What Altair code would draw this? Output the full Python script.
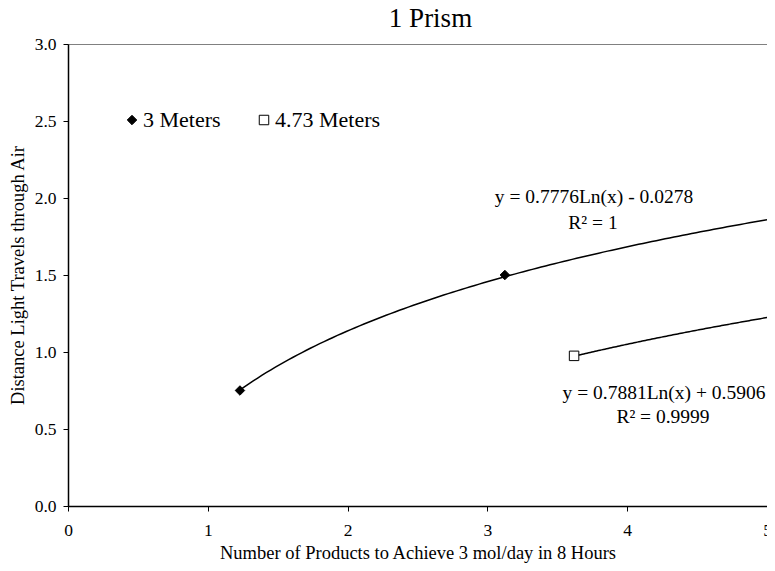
import altair as alt
import pandas as pd
import numpy as np

# ---- data ----
series = ["3 Meters", "3 Meters", "4.73 Meters"]
x_vals = [1.23, 3.125, 3.62]
y_vals = [0.75, 1.50, 0.975]

# trendlines (logarithmic), coefficients as displayed on the chart
trend_series = ["3 Meters", "4.73 Meters"]
trend_slope = [0.7881, 0.7776]
trend_intercept = [0.5906, -0.0278]
trend_start = [1.23, 3.62]
trend_end = [5.0, 5.0]

eq_labels = ["y = 0.7776Ln(x) - 0.0278", "R² = 1",
             "y = 0.7881Ln(x) + 0.5906", "R² = 0.9999"]

x_ticks = [0, 1, 2, 3, 4, 5]
y_ticks = [0.0, 0.5, 1.0, 1.5, 2.0, 2.5, 3.0]

FONT = "Liberation Serif"

pts = pd.DataFrame({"series": series, "x": x_vals, "y": y_vals})

rows = []
for s, a, b, x0, x1 in zip(trend_series, trend_slope, trend_intercept, trend_start, trend_end):
    for xv in np.linspace(x0, x1, 120):
        rows.append({"series": s, "x": xv, "y": a * np.log(xv) + b})
curve = pd.DataFrame(rows)

xscale = alt.Scale(domain=[0, 5], nice=False, zero=False)
yscale = alt.Scale(domain=[0, 3], nice=False)

xaxis = alt.Axis(values=x_ticks, format="d", title="Number of Products to Achieve 3 mol/day in 8 Hours",
                 grid=False, labelFlush=False)
yaxis = alt.Axis(values=y_ticks, format=".1f", title="Distance Light Travels through Air", grid=False)

legend = alt.Legend(title=None, orient="none", legendX=53, legendY=65, direction="horizontal")

lines = alt.Chart(curve).mark_line(color="black", strokeWidth=1.5).encode(
    x=alt.X("x:Q", scale=xscale, axis=xaxis),
    y=alt.Y("y:Q", scale=yscale, axis=yaxis),
    detail="series:N",
    order="x:Q",
)

points = alt.Chart(pts).mark_point(filled=True, size=90, strokeWidth=1, opacity=1).encode(
    x=alt.X("x:Q", scale=xscale, axis=xaxis),
    y=alt.Y("y:Q", scale=yscale, axis=yaxis),
    shape=alt.Shape("series:N", scale=alt.Scale(domain=trend_series, range=["diamond", "square"]), legend=legend),
    fill=alt.Fill("series:N", scale=alt.Scale(domain=trend_series, range=["black", "white"]), legend=legend),
    stroke=alt.Stroke("series:N", scale=alt.Scale(domain=trend_series, range=["black", "black"]), legend=legend),
)

eq_pos = [(526, 153), (525, 179), (596, 349), (595, 373)]
texts = []
for lbl, (px, py) in zip(eq_labels, eq_pos):
    texts.append(
        alt.Chart(pd.DataFrame({"t": [lbl]})).mark_text(
            font=FONT, fontSize=19.5, color="black", align="center", baseline="middle"
        ).encode(text="t:N", x=alt.value(px), y=alt.value(py))
    )

chart = alt.layer(lines, points, *texts).properties(
    width=699,
    height=462,
    title=alt.TitleParams("1 Prism", font=FONT, fontSize=27, fontWeight="normal", color="black",
                          anchor="middle", dx=13, offset=2),
    autosize=alt.AutoSizeParams(type="none"),
    padding={"left": 60, "top": 36, "right": 0, "bottom": 57},
).configure_view(
    stroke="#808080", strokeWidth=1
).configure_axis(
    domainColor="black", domainWidth=1.5, tickColor="black", tickWidth=1, tickSize=5,
    labelFont=FONT, labelFontSize=17.5, labelColor="black",
    titleFont=FONT, titleFontSize=18.5, titleFontWeight="normal", titleColor="black",
).configure_axisX(
    labelPadding=10, titlePadding=5
).configure_axisY(
    labelPadding=7, titlePadding=7
).configure_legend(
    labelFont=FONT, labelFontSize=22, labelColor="black", symbolSize=90,
    symbolStrokeWidth=1, labelOffset=0, columnPadding=32, padding=0,
    symbolOpacity=1,
)

chart.save("out.html", embed_options={"renderer": "svg", "actions": False})
